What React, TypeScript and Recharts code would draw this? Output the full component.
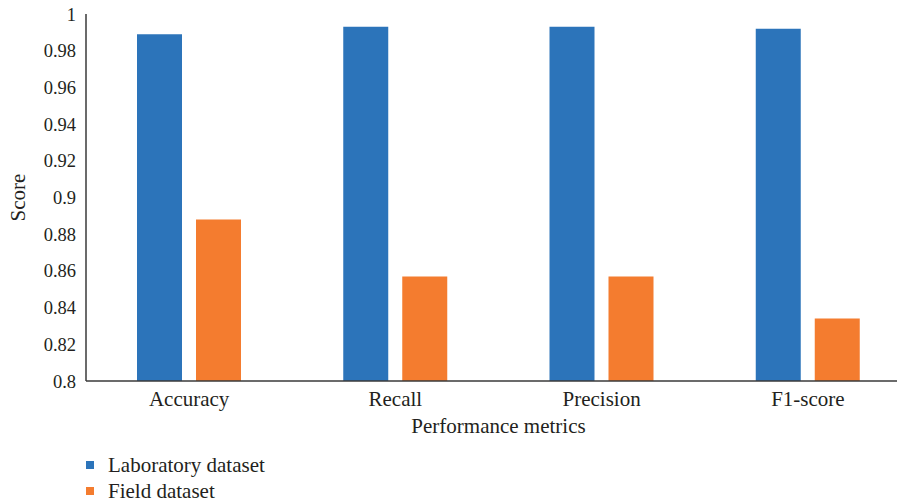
import { BarChart, Bar, XAxis, YAxis, Legend, Label } from 'recharts'

const metrics = ['Accuracy', 'Recall', 'Precision', 'F1-score']
const laboratory = [0.989, 0.993, 0.993, 0.992]
const field = [0.888, 0.857, 0.857, 0.834]
const yTicks = [0.8, 0.82, 0.84, 0.86, 0.88, 0.9, 0.92, 0.94, 0.96, 0.98, 1]

const BLUE = '#2C74BA'
const ORANGE = '#F47C2F'
const AXIS = '#3a3a3a'
const TEXT = '#231F20'
const FONT = '"Liberation Serif", "DejaVu Serif", serif'

const data = metrics.map((m, i) => ({ metric: m, lab: laboratory[i], field: field[i] }))

const legendItems = [
  { name: 'Laboratory dataset', color: BLUE },
  { name: 'Field dataset', color: ORANGE },
]

function StackedLegend() {
  return (
    <div style={{ fontFamily: FONT, fontSize: 21, color: TEXT }}>
      {legendItems.map((it) => (
        <div key={it.name} style={{ height: 26, display: 'flex', alignItems: 'center' }}>
          <span style={{ width: 8, height: 8, background: it.color, marginLeft: 86, marginRight: 14 }} />
          <span>{it.name}</span>
        </div>
      ))}
    </div>
  )
}

export default function App() {
  return (
    <div style={{ position: 'fixed', left: 0, top: 0, width: 897, height: 504, overflow: 'hidden', background: '#fff' }}>
      <BarChart
        width={912}
        height={504}
        data={data}
        margin={{ top: 14, right: 1, left: 0, bottom: 0 }}
        barSize={45}
        barGap={14}
      >
        <XAxis
          dataKey="metric"
          tickLine={false}
          tickSize={0}
          tickMargin={10}
          height={71}
          axisLine={{ stroke: AXIS, strokeWidth: 1.5 }}
          tick={{ fill: TEXT, fontSize: 21, fontFamily: FONT }}
        >
          <Label
            value="Performance metrics"
            position="insideBottom"
            offset={19}
            style={{ fill: TEXT, fontSize: 21, fontFamily: FONT }}
          />
        </XAxis>
        <XAxis
          xAxisId="top"
          dataKey="metric"
          orientation="top"
          height={0}
          tick={false}
          tickLine={false}
          axisLine={{ stroke: AXIS, strokeWidth: 1.5 }}
        />
        <YAxis
          domain={[0.8, 1]}
          ticks={yTicks}
          interval={0}
          width={86}
          tickLine={false}
          tickSize={0}
          tickMargin={10}
          tickFormatter={(v: number) => String(v)}
          axisLine={{ stroke: AXIS, strokeWidth: 1.5 }}
          tick={{ fill: TEXT, fontSize: 18.5, fontFamily: FONT }}
        >
          <Label
            value="Score"
            angle={-90}
            position="insideLeft"
            offset={18}
            style={{ fill: TEXT, fontSize: 21, fontFamily: FONT, textAnchor: 'middle' }}
          />
        </YAxis>
        <Legend layout="horizontal" verticalAlign="bottom" align="left" content={StackedLegend} />
        <Bar dataKey="lab" name="Laboratory dataset" fill={BLUE} isAnimationActive={false} />
        <Bar dataKey="field" name="Field dataset" fill={ORANGE} isAnimationActive={false} />
      </BarChart>
    </div>
  )
}
